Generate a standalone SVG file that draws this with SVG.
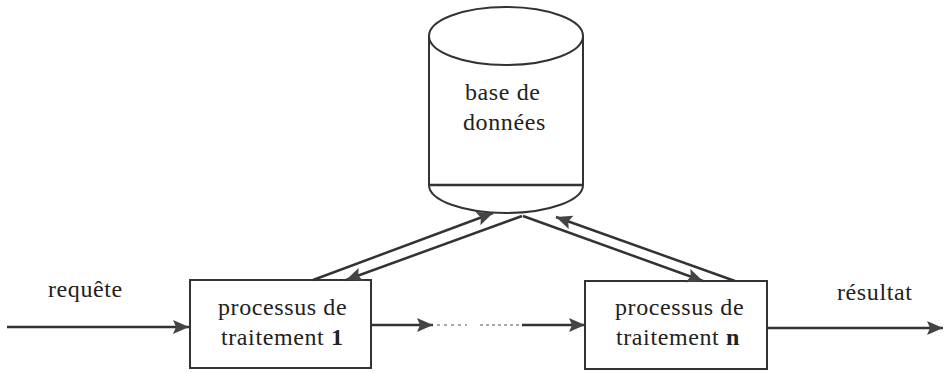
<svg xmlns="http://www.w3.org/2000/svg" width="944" height="373" viewBox="0 0 944 373">
<style>
text{font-family:'Liberation Serif','DejaVu Serif',serif;font-size:24px;letter-spacing:0.6px;fill:#222}
.b{font-weight:bold}
.ln{stroke:#333;stroke-width:2.5;fill:none}
.sh{stroke:#333;stroke-width:2;fill:#fff}
</style>
<defs>
<marker id="ah" markerUnits="userSpaceOnUse" markerWidth="18" markerHeight="16" refX="16" refY="8" orient="auto">
<path d="M0,1 L16,8 L0,15 L3,8 z" fill="#444"/>
</marker>
</defs>
<rect width="944" height="373" fill="#fff"/>
<g id="db">
<path class="sh" d="M429,36 L429,185 A77,28 0 0 0 583,185 L583,36"/>
<ellipse class="sh" cx="506" cy="36" rx="77" ry="29"/>
<line class="ln" x1="429" y1="185" x2="583" y2="185" stroke-width="2"/>
<text x="465" y="100">base de</text>
<text x="463" y="130">données</text>
</g>
<g id="p1">
<rect class="sh" x="190" y="280" width="181" height="88"/>
<text x="218" y="315">processus de</text>
<text x="221" y="345">traitement <tspan class="b">1</tspan></text>
</g>
<g id="pn">
<rect class="sh" x="585" y="281" width="182" height="88"/>
<text x="615" y="315">processus de</text>
<text x="616" y="345">traitement <tspan class="b">n</tspan></text>
</g>
<g id="labels">
<text x="48" y="297">requête</text>
<text x="837" y="300">résultat</text>
</g>
<g id="connectors">
<line class="ln" x1="7" y1="327" x2="189" y2="327" marker-end="url(#ah)"/>
<line class="ln" x1="371" y1="325" x2="433" y2="325" marker-end="url(#ah)"/>
<line stroke="#555" stroke-width="1.2" stroke-dasharray="3,4" x1="437" y1="325" x2="467" y2="325"/>
<line stroke="#555" stroke-width="1.2" stroke-dasharray="3,3" x1="480" y1="325" x2="520" y2="325"/>
<line class="ln" stroke-width="3.5" x1="522" y1="325" x2="585" y2="325" marker-end="url(#ah)"/>
<line class="ln" x1="767" y1="328" x2="943" y2="328" marker-end="url(#ah)"/>
<line class="ln" x1="313" y1="280" x2="493" y2="213" marker-end="url(#ah)"/>
<line class="ln" x1="522" y1="216" x2="346" y2="280" marker-end="url(#ah)"/>
<line class="ln" x1="523" y1="216" x2="703" y2="281" marker-end="url(#ah)"/>
<line class="ln" x1="735" y1="281" x2="556" y2="217" marker-end="url(#ah)"/>
</g>
</svg>
